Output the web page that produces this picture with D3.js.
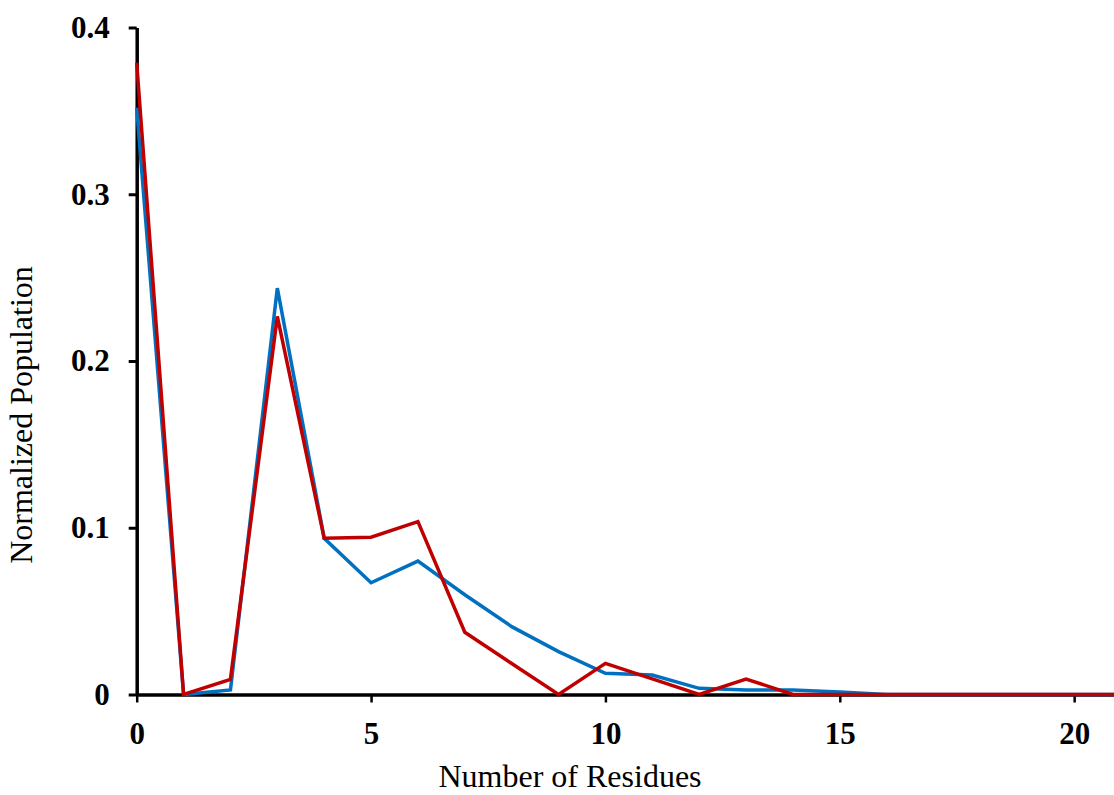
<!DOCTYPE html>
<html>
<head>
<meta charset="utf-8">
<script src="https://cdn.jsdelivr.net/npm/d3@7"></script>
<style>
  html, body { margin: 0; padding: 0; background: #fff; }
  svg { display: block; }
</style>
</head>
<body>
<svg id="chart" width="1114" height="795"></svg>
<script>
// Data
const residues = [0,1,2,3,4,5,6,7,8,9,10,11,12,13,14,15,16,17,18,19,20,21];
const blueSeries = [0.352,0,0.0027,0.2437,0.0937,0.067,0.080,0.0598,0.0407,0.0257,0.0127,0.0117,0.0037,0.0027,0.0027,0.0015,0,0,0,0,0,0];
const redSeries  = [0.379,0,0.0091,0.2267,0.0937,0.0943,0.1037,0.0373,0.0186,0,0.0187,0.0094,0,0.0093,0,0,0,0,0,0,0,0];
const xTicks = [0,5,10,15,20];
const yTicks = [0,0.1,0.2,0.3,0.4];
const xTitle = "Number of Residues";
const yTitle = "Normalized Population";

const svg = d3.select("#chart");
const x = d3.scaleLinear().domain([0, 20.85]).range([136.7, 1114]);
const y = d3.scaleLinear().domain([0, 0.4]).range([694.5, 27.5]);

const serif = "'Liberation Serif', 'Times New Roman', serif";

// Y axis
const yAxis = svg.append("g")
  .attr("transform", `translate(${x(0)},0)`)
  .call(d3.axisLeft(y).tickValues(yTicks).tickSize(8).tickSizeOuter(0).tickPadding(19)
    .tickFormat(d => d === 0 ? "0" : d3.format(".1f")(d)));
yAxis.select(".domain").attr("stroke", "#000").attr("stroke-width", 3.5);
yAxis.selectAll(".tick line").attr("stroke", "#000").attr("stroke-width", 3);
yAxis.selectAll(".tick text")
  .attr("font-family", serif).attr("font-weight", "bold").attr("font-size", 31).attr("fill", "#000");

// X axis
const xAxis = svg.append("g")
  .attr("transform", `translate(0,${y(0)})`)
  .call(d3.axisBottom(x).tickValues(xTicks).tickSize(8).tickSizeOuter(0).tickPadding(19)
    .tickFormat(d3.format("d")));
xAxis.select(".domain").attr("stroke", "#000").attr("stroke-width", 3.5);
xAxis.selectAll(".tick line").attr("stroke", "#000").attr("stroke-width", 2.5);
xAxis.selectAll(".tick text")
  .attr("font-family", serif).attr("font-weight", "bold").attr("font-size", 31).attr("fill", "#000");

// Lines
const line = d3.line().x((d, i) => x(residues[i])).y(d => y(d));
svg.append("path").datum(blueSeries)
  .attr("d", line).attr("fill", "none").attr("stroke", "#0070C0").attr("stroke-width", 3.5)
  .attr("stroke-linejoin", "miter");
svg.append("path").datum(redSeries)
  .attr("d", line).attr("fill", "none").attr("stroke", "#C00000").attr("stroke-width", 3.5)
  .attr("stroke-linejoin", "miter");

// Titles
svg.append("text")
  .attr("x", 570).attr("y", 787)
  .attr("text-anchor", "middle")
  .attr("font-family", serif).attr("font-size", 32).attr("fill", "#000")
  .text(xTitle);
svg.append("text")
  .attr("transform", "translate(32,415) rotate(-90)")
  .attr("text-anchor", "middle")
  .attr("font-family", serif).attr("font-size", 32).attr("fill", "#000")
  .text(yTitle);
</script>
</body>
</html>
